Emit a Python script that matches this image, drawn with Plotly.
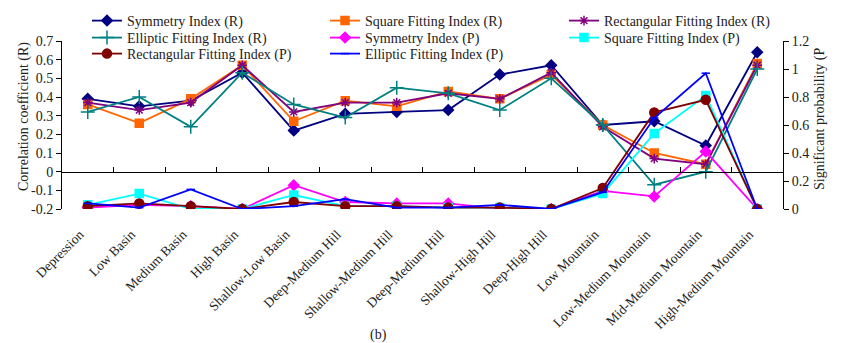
import plotly.graph_objects as go

categories = ["Depression", "Low Basin", "Medium Basin", "High Basin", "Shallow-Low Basin",
              "Deep-Medium Hill", "Shallow-Medium Hill", "Deep-Medium Hill", "Shallow-High Hill",
              "Deep-High Hill", "Low Mountain", "Low-Medium Mountain", "Mid-Medium Mountain",
              "High-Medium Mountain"]
x_idx = list(range(len(categories)))

# Correlation coefficients (R), left axis
sym_R = [0.39, 0.35, 0.38, 0.53, 0.22, 0.31, 0.32, 0.33, 0.52, 0.57, 0.25, 0.27, 0.14, 0.64]
sq_R = [0.36, 0.26, 0.39, 0.57, 0.27, 0.38, 0.35, 0.43, 0.39, 0.52, 0.25, 0.10, 0.04, 0.58]
rect_R = [0.37, 0.33, 0.37, 0.57, 0.32, 0.37, 0.37, 0.42, 0.39, 0.53, 0.24, 0.07, 0.04, 0.57]
ell_R = [0.32, 0.40, 0.24, 0.53, 0.36, 0.29, 0.45, 0.42, 0.33, 0.50, 0.25, -0.07, 0.00, 0.55]

# Significant probability (P), right axis
sym_P = [0.01, 0.03, 0.02, 0.00, 0.17, 0.05, 0.04, 0.04, 0.00, 0.00, 0.13, 0.09, 0.41, 0.00]
sq_P = [0.03, 0.11, 0.00, 0.00, 0.10, 0.02, 0.02, 0.01, 0.01, 0.00, 0.11, 0.54, 0.81, 0.00]
rect_P = [0.02, 0.04, 0.02, 0.00, 0.05, 0.02, 0.02, 0.01, 0.01, 0.00, 0.15, 0.69, 0.78, 0.00]
ell_P = [0.04, 0.01, 0.14, 0.00, 0.02, 0.07, 0.01, 0.01, 0.03, 0.00, 0.12, 0.65, 0.97, 0.00]

left_ticks = [0.7, 0.6, 0.5, 0.4, 0.3, 0.2, 0.1, 0, -0.1, -0.2]
left_labels = ["0.7", "0.6", "0.5", "0.4", "0.3", "0.2", "0.1", "0", "-0.1", "-0.2"]
right_ticks = [0, 0.2, 0.4, 0.6, 0.8, 1.0, 1.2]
right_labels = ["0", "0.2", "0.4", "0.6", "0.8", "1", "1.2"]

FONT = "Liberation Serif"
TXT = "#222"

# name, values, axis, colour, marker, size, legend column, legend row
series = [
    ("Symmetry Index (R)", sym_R, "y", "#000080", "diamond", 8, 0, 0),
    ("Square Fitting Index (R)", sq_R, "y", "#FF6600", "square", 8, 1, 0),
    ("Rectangular Fitting Index (R)", rect_R, "y", "#800080", "asterisk-open", 8, 2, 0),
    ("Elliptic Fitting Index (R)", ell_R, "y", "#008080", "cross-thin-open", 10, 0, 1),
    ("Symmetry Index (P)", sym_P, "y2", "#FF00FF", "diamond", 8, 1, 1),
    ("Square Fitting Index (P)", sq_P, "y2", "#00FFFF", "square", 8, 2, 1),
    ("Rectangular Fitting Index (P)", rect_P, "y2", "#800000", "circle", 9, 0, 2),
    ("Elliptic Fitting Index (P)", ell_P, "y2", "#0000FF", "line-ew-open", 6, 1, 2),
]
col_x = [87, 325, 564]      # legend left edges (px)
row_top = [5, 22, 38]       # legend top edges (px)

fig = go.Figure()
legends = {}
for i, (name, vals, yax, color, sym, size, col, row) in enumerate(series):
    key = "legend" if i == 0 else f"legend{i + 1}"
    fig.add_trace(go.Scatter(
        x=x_idx, y=vals, xaxis=("x2" if yax == "y2" else "x"), yaxis=yax, name=name,
        mode="lines+markers",
        line=dict(color=color, width=1.8),
        marker=dict(symbol=sym, size=size, color=color, line=dict(color=color, width=1.5)),
        legend=key,
    ))
    legends[key] = dict(x=col_x[col] / 843, y=1 - row_top[row] / 343,
                        xref="container", yref="container", xanchor="left", yanchor="top",
                        font=dict(family=FONT, size=14, color=TXT), bgcolor="rgba(0,0,0,0)")

# between-category tick marks along the zero line
boundaries = [i + 0.5 for i in x_idx[:-1]]

def px_x(px):
    return (px - 62) / 721

def px_y(py):
    return (209 - py) / 168

fig.update_layout(
    width=843, height=343,
    margin=dict(l=62, r=60, t=41, b=134, autoexpand=False),
    paper_bgcolor="white", plot_bgcolor="white",
    font=dict(family=FONT, size=13, color=TXT),
    showlegend=True,
    xaxis=dict(
        range=[-0.5, 13.5], anchor="free", position=0.2 / 0.9, automargin=False,
        showline=True, linecolor="black", linewidth=1,
        ticks="inside", ticklen=5, tickcolor="black", tickvals=boundaries,
        showticklabels=False, showgrid=False, zeroline=False,
    ),
    xaxis2=dict(
        range=[-0.5, 13.5], overlaying="x", anchor="y2", side="bottom", automargin=False,
        tickvals=x_idx, ticktext=categories, tickangle=-45,
        ticklabelstandoff=14, ticklabelshift=-8,
        showline=False, ticks="", showgrid=False, zeroline=False,
        tickfont=dict(family=FONT, size=13.5, color=TXT),
    ),
    yaxis=dict(
        range=[-0.2, 0.7], tickvals=left_ticks, ticktext=left_labels, automargin=False,
        showline=True, linecolor="black", linewidth=1, ticks="outside", ticklen=5,
        tickcolor="black", showgrid=False, zeroline=False,
        tickfont=dict(family=FONT, size=14, color=TXT),
    ),
    yaxis2=dict(
        range=[0, 1.2], tickvals=right_ticks, ticktext=right_labels, overlaying="y", side="right",
        anchor="x2", automargin=False,
        showline=True, linecolor="black", linewidth=1, ticks="outside", ticklen=5,
        tickcolor="black", showgrid=False, zeroline=False,
        tickfont=dict(family=FONT, size=14, color=TXT),
    ),
    annotations=[
        dict(text="(b)", x=px_x(378), y=px_y(335), xref="paper", yref="paper", yanchor="middle",
             showarrow=False, font=dict(family=FONT, size=14, color=TXT)),
        dict(text="Correlation coefficient (R)", x=px_x(14), y=px_y(117), xref="paper", yref="paper",
             textangle=-90, showarrow=False, font=dict(family=FONT, size=14, color=TXT)),
        dict(text="Significant probability (P", x=px_x(830), y=px_y(119), xref="paper", yref="paper",
             textangle=-90, showarrow=False, font=dict(family=FONT, size=14, color=TXT)),
    ],
)
fig.update_layout(**legends)

fig.write_html("out.html", config={"displayModeBar": False},
               post_script="document.body.style.margin='0';")
